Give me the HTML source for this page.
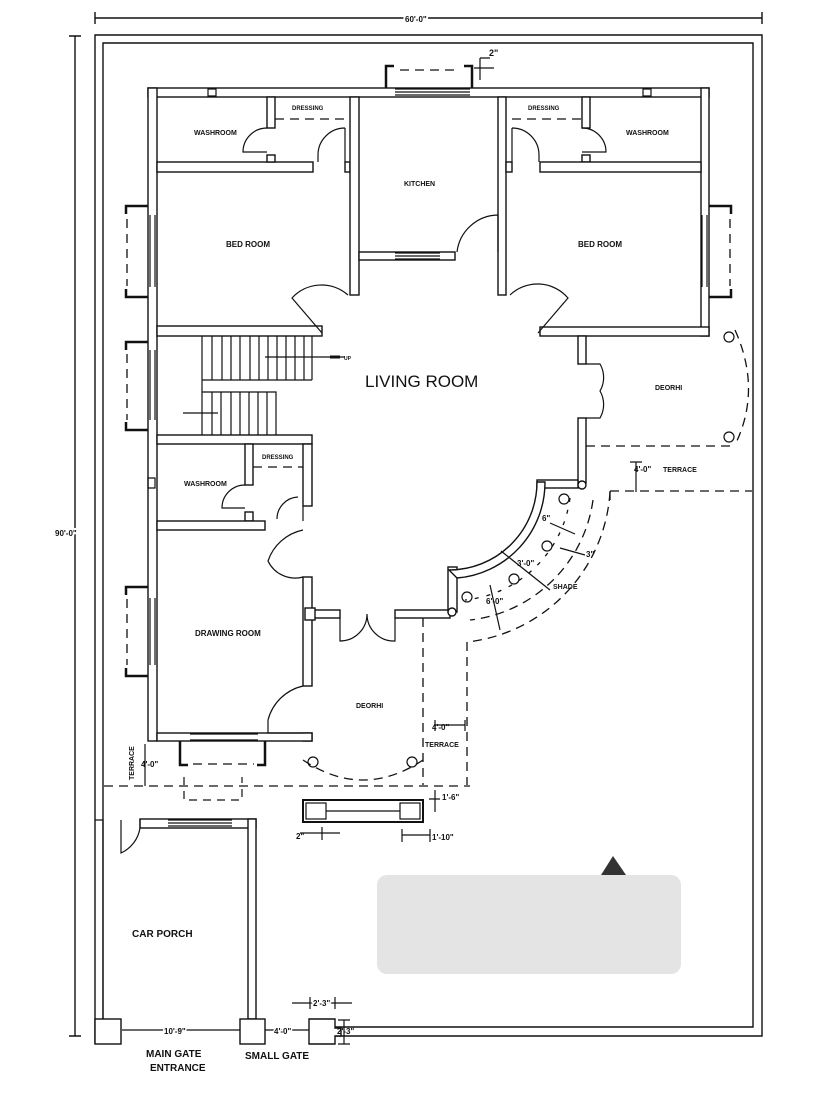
<!DOCTYPE html>
<html><head><meta charset="utf-8"><style>
html,body{margin:0;padding:0;background:#fff}
svg{display:block}
text{font-family:"Liberation Sans",sans-serif;font-weight:bold;fill:#111}
</style></head><body>
<svg width="839" height="1097" viewBox="0 0 839 1097" xmlns="http://www.w3.org/2000/svg">
<rect width="839" height="1097" fill="#fff"/>
<g stroke="#111" stroke-width="1.4" fill="none">
<path d="M95,1044 V35 H762 V1036 H335"/>
<path d="M103,1044 V43 H753 V1027 H335"/>
<path d="M95,18 H762 M95,12 V24 M762,12 V24"/>
<path d="M75,36 V1036 M69,36 H81 M69,1036 H81"/>
</g>
<text x="405" y="22" font-size="8" stroke="#fff" stroke-width="4" paint-order="stroke">60'-0"</text>
<text x="55" y="536" font-size="8" stroke="#fff" stroke-width="4" paint-order="stroke">90'-0"</text>

<g stroke="#111" stroke-width="1.4" fill="#fff">
<rect x="148" y="88" width="561" height="9"/>
<rect x="148" y="88" width="9" height="653"/>
<rect x="701" y="88" width="8" height="248"/>
<rect x="157" y="162" width="156" height="10"/>
<rect x="267" y="97" width="8" height="31"/>
<rect x="267" y="155" width="8" height="7"/>
<rect x="345" y="162" width="5" height="10"/>
<rect x="350" y="97" width="9" height="198"/>
<rect x="498" y="97" width="8" height="198"/>
<rect x="359" y="252" width="96" height="8"/>
<rect x="582" y="97" width="8" height="31"/>
<rect x="582" y="155" width="8" height="7"/>
<rect x="540" y="162" width="161" height="10"/>
<rect x="506" y="162" width="6" height="10"/>
<rect x="540" y="327" width="169" height="9"/>
<rect x="157" y="326" width="165" height="10"/>
<rect x="157" y="435" width="155" height="9"/>
<rect x="245" y="444" width="8" height="41"/>
<rect x="245" y="512" width="8" height="9"/>
<rect x="157" y="521" width="108" height="9"/>
<rect x="303" y="444" width="9" height="62"/>
<rect x="303" y="577" width="9" height="109"/>
<rect x="303" y="733" width="9" height="8"/>
<rect x="157" y="733" width="155" height="8"/>
<rect x="312" y="610" width="28" height="8"/>
<rect x="395" y="610" width="55" height="8"/>
<rect x="578" y="336" width="8" height="28"/>
<rect x="578" y="418" width="8" height="65"/>
<rect x="537" y="480" width="41" height="8"/>
<rect x="448" y="567" width="9" height="45"/>
<path d="M537,482 A88,88 0 0 1 449,570 L457,578 A96,96 0 0 0 545,482 Z"/>
<circle cx="582" cy="485" r="4"/>
<circle cx="452" cy="612" r="4"/>
<rect x="305" y="608" width="10" height="12"/>
<rect x="140" y="819" width="116" height="9"/>
<rect x="248" y="819" width="8" height="200"/>
<rect x="95" y="1019" width="26" height="25"/>
<rect x="240" y="1019" width="25" height="25"/>
<path d="M309,1019 H335 V1028 H341 V1036 H335 V1044 H309 Z"/>
</g>
<g stroke="#111" stroke-width="1.2" fill="none">
<path d="M395,89 H470 M395,95 H470 M395,92 H470"/>
<path d="M395,253 H440 M395,259 H440 M395,256 H440"/>
<path d="M168,820 H232 M168,826 H232 M168,823 H232"/>
<path d="M190,734 H258 M190,740 H258"/>
<path d="M150,215 V287 M155,215 V287 M150,350 V420 M155,350 V420 M150,598 V665 M155,598 V665"/>
<path d="M702,215 V287 M707,215 V287"/>
<path d="M208,89 H216 V96 H208 Z M643,89 H651 V96 H643 Z M148,478 H155 V488 H148 Z"/>
<g stroke-width="2.5">
<path d="M148,206 H126 V214 M148,297 H126 V289"/>
<path d="M148,342 H126 V350 M148,430 H126 V422"/>
<path d="M148,587 H126 V595 M148,676 H126 V668"/>
<path d="M709,206 H731 V214 M709,297 H731 V289"/>
<path d="M386,88 V66 H394 M472,88 V66 H464"/>
<path d="M180,741 V765 H188 M265,741 V765 H257"/>
</g>
<path d="M95,820 H103 V1019" />
<path d="M184,777 V800 H242 V777" stroke-dasharray="8 6"/>
</g>
<g stroke="#111" stroke-width="1.3" fill="none" stroke-dasharray="9 6">
<path d="M127,219 V286 M127,354 V420 M127,599 V665 M730,219 V286"/>
<path d="M400,70 H460 M193,764 H254"/>
<path d="M275,119 H350 M512,119 H582 M253,467 H303"/>
<path d="M586,446 H735 M610,491 H752 M610,491 V500"/>
<path d="M423,618 V785 M467,642 V785 M104,786 H470"/>
<path d="M735,330 Q762,390 735,445"/>
<path d="M610,492 A161,161 0 0 1 467,642"/>
<path d="M593,500 A140,140 0 0 1 470,620"/>
<path d="M570,498 A118,118 0 0 1 465,600" stroke-dasharray="4 8"/>
<path d="M303,760 Q363,800 423,760"/>
</g>
<g stroke="#111" stroke-width="1.2" fill="none">
<path d="M202,336 V435 M202,380 H312 M202,392 H276 V435 M312,336 V380"/>
<path d="M212,336V380M222,336V380M231,336V380M240,336V380M250,336V380M259,336V380M268,336V380M277,336V380M286,336V380M295,336V380M304,336V380"/>
<path d="M212,392V435M221,392V435M231,392V435M240,392V435M249,392V435M258,392V435M267,392V435"/>
<path d="M265,357 H345 M183,413 H218"/>
<path d="M330,357 H340" stroke-width="3"/>
<path d="M267,128 A24,24 0 0 0 243,152 H267"/>
<path d="M345,128 V162 M345,128 A27,27 0 0 0 318,155 V162"/>
<path d="M582,128 A24,24 0 0 1 606,152 H582"/>
<path d="M512,128 V162 M512,128 A27,27 0 0 1 539,155 V162"/>
<path d="M498,215 V252 M498,215 A42,42 0 0 0 457,252"/>
<path d="M322,333 L292,298 A40,40 0 0 1 348,295"/>
<path d="M538,333 L568,298 A40,40 0 0 0 510,295"/>
<path d="M245,485 A23,23 0 0 0 222,508 H245"/>
<path d="M303,506 V521 M298,497 A22,22 0 0 0 277,519"/>
<path d="M303,530 A47,47 0 0 0 268,561 A30,30 0 0 0 303,577"/>
<path d="M303,686 A47,47 0 0 0 268,720 V733 H303"/>
<path d="M340,618 V641 A27,27 0 0 0 367,614 A27,27 0 0 0 395,641 V618"/>
<path d="M586,364 H600 A27,27 0 0 1 600,391 A27,27 0 0 1 600,418 H586"/>
<path d="M121,820 V853 A33,33 0 0 0 140,828 V819"/>
<circle cx="729" cy="337" r="5"/><circle cx="729" cy="437" r="5"/>
<circle cx="564" cy="499" r="5"/><circle cx="547" cy="546" r="5"/>
<circle cx="514" cy="579" r="5"/><circle cx="467" cy="597" r="5"/>
<circle cx="313" cy="762" r="5"/><circle cx="412" cy="762" r="5"/>
<rect x="303" y="800" width="120" height="22" stroke-width="2"/>
<rect x="306" y="803" width="20" height="16"/><rect x="400" y="803" width="20" height="16"/>
<path d="M326,811 H400"/>
<path d="M480,58 V80 M474,68 H494 M480,58 H490 M636,462 V492 M630,462 H642"/>
<path d="M435,725 H465 M435,720 V731 M465,720 V731"/>
<path d="M145,744 V786 M435,790 V812 M429,799 H440"/>
<path d="M300,833 H340 M322,827 V840 M402,835 H430 M402,829 V842 M430,829 V842"/>
<path d="M122,1030 H240 M265,1030 H309 M292,1003 H352 M310,997 V1009 M335,997 V1009 M344,1020 V1044 M338,1020 H350 M338,1044 H350"/>
<path d="M501,551 L550,590 M490,585 L500,630 M550,523 L575,534 M560,548 L585,555"/>
</g>
<g font-size="7">
<text x="194" y="135">WASHROOM</text>
<text x="292" y="110" font-size="6">DRESSING</text>
<text x="404" y="186">KITCHEN</text>
<text x="226" y="247" font-size="8">BED ROOM</text>
<text x="528" y="110" font-size="6">DRESSING</text>
<text x="626" y="135">WASHROOM</text>
<text x="578" y="247" font-size="8">BED ROOM</text>
<text x="344" y="360" font-size="5">UP</text>
<text x="184" y="486">WASHROOM</text>
<text x="262" y="459" font-size="6">DRESSING</text>
<text x="195" y="636" font-size="8">DRAWING ROOM</text>
<text x="356" y="708">DEORHI</text>
<text x="655" y="390">DEORHI</text>
<text x="634" y="472" font-size="8">4'-0"</text><text x="663" y="472">TERRACE</text>
<text x="542" y="521" font-size="8">6"</text>
<text x="517" y="566" font-size="8">3'-0"</text>
<text x="586" y="557" font-size="8">3"</text>
<text x="486" y="604" font-size="8">6'-0"</text>
<text x="553" y="589">SHADE</text>
<text x="489" y="56" font-size="9">2"</text>
<text x="432" y="730" font-size="8">4'-0"</text>
<text x="425" y="747">TERRACE</text>
<text x="141" y="767" font-size="8">4'-0"</text>
<text x="134" y="780" transform="rotate(-90 134 780)">TERRACE</text>
<text x="442" y="800" font-size="8">1'-6"</text>
<text x="296" y="839" font-size="8">2"</text>
<text x="432" y="840" font-size="8">1'-10"</text>
<text x="132" y="937" font-size="10">CAR PORCH</text>
<text x="164" y="1034" font-size="8" stroke="#fff" stroke-width="3" paint-order="stroke">10'-9"</text>
<text x="274" y="1034" font-size="8" stroke="#fff" stroke-width="3" paint-order="stroke">4'-0"</text>
<text x="313" y="1006" font-size="8" stroke="#fff" stroke-width="3" paint-order="stroke">2'-3"</text>
<text x="337" y="1034" font-size="8">2'-3"</text>
<text x="146" y="1057" font-size="10">MAIN GATE</text>
<text x="150" y="1071" font-size="10">ENTRANCE</text>
<text x="245" y="1059" font-size="10">SMALL GATE</text>
</g>
<text x="365" y="387" font-size="17" style="font-weight:normal">LIVING ROOM</text>
<polygon points="613,856 601,875 626,875" fill="#333"/>
<rect x="377" y="875" width="304" height="99" rx="10" fill="#e4e4e4"/>
</svg>
</body></html>
